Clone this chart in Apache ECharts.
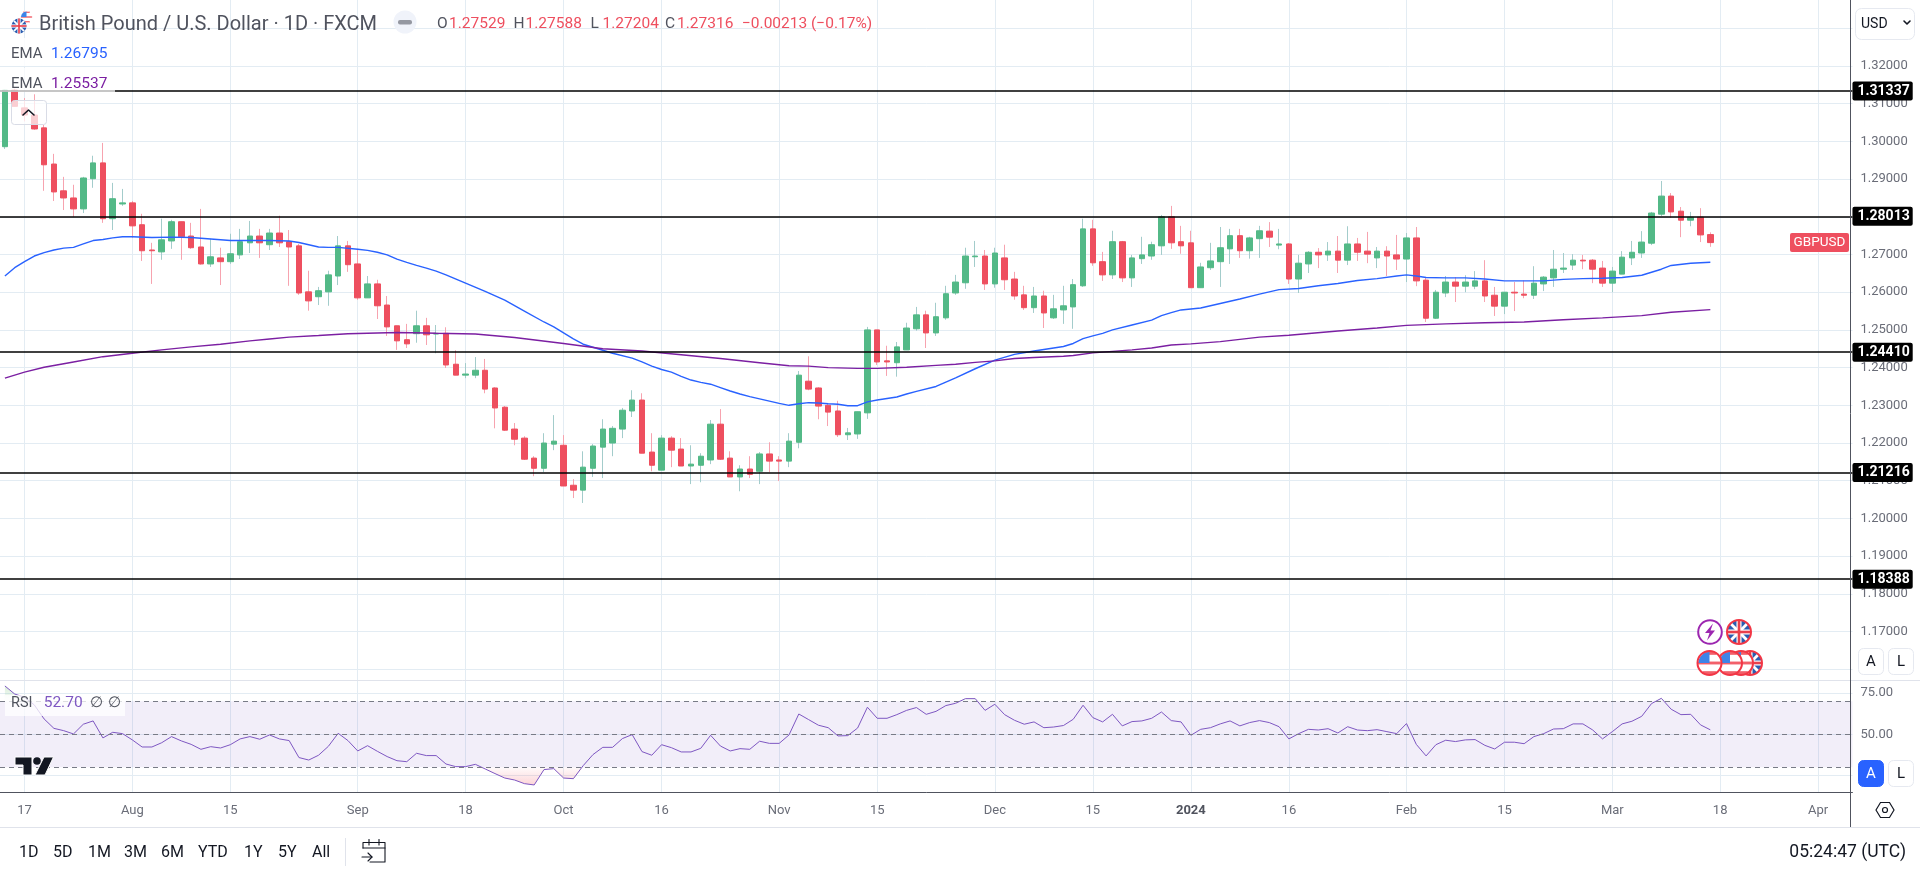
<!DOCTYPE html>
<html><head><meta charset="utf-8"><title>GBPUSD</title>
<style>html,body{margin:0;padding:0;background:#fff}#c{width:1920px;height:872px}</style>
<script src="https://cdn.jsdelivr.net/npm/echarts@6/dist/echarts.min.js"></script>
</head><body><div id="c"></div>
<script>
const tradingDays = [
 ['2023-07',[13,14,17,18,19,20,21,24,25,26,27,28,31]],
 ['2023-08',[1,2,3,4,7,8,9,10,11,14,15,16,17,18,21,22,23,24,25,28,29,30,31]],
 ['2023-09',[1,4,5,6,7,8,11,12,13,14,15,18,19,20,21,22,25,26,27,28,29]],
 ['2023-10',[2,3,4,5,6,9,10,11,12,13,16,17,18,19,20,23,24,25,26,27,30,31]],
 ['2023-11',[1,2,3,6,7,8,9,10,13,14,15,16,17,20,21,22,23,24,27,28,29,30]],
 ['2023-12',[1,4,5,6,7,8,11,12,13,14,15,18,19,20,21,22,26,27,28,29]],
 ['2024-01',[2,3,4,5,8,9,10,11,12,15,16,17,18,19,22,23,24,25,26,29,30,31]],
 ['2024-02',[1,2,5,6,7,8,9,12,13,14,15,16,19,20,21,22,23,26,27,28,29]],
 ['2024-03',[1,4,5,6,7,8,11,12,13,14,15,18,19,20,21,22,25,26,27,28,29]],
 ['2024-04',[1,2,3,4]]
];
const categories = tradingDays.flatMap(([m,ds]) => ds.map(d => m+'-'+String(d).padStart(2,'0')));
const xTickDates = ['2023-07-17','2023-08-01','2023-08-15','2023-09-01','2023-09-18','2023-10-02','2023-10-16','2023-11-01','2023-11-15','2023-12-01','2023-12-15','2024-01-02','2024-01-16','2024-02-01','2024-02-15','2024-03-01','2024-03-18','2024-04-01'];
const xTickLabels = ['17','Aug','15','Sep','18','Oct','16','Nov','15','Dec','15','2024','16','Feb','15','Mar','18','Apr'];

const opens = [
1.2986,1.3136,1.3089,1.3070,1.3036,1.2940,1.2869,1.2850,1.2821,1.2901,
1.2943,1.2795,1.2834,1.2837,1.2779,1.2712,1.2707,1.2736,1.2787,1.2749,
1.2720,1.2675,1.2691,1.2681,1.2699,1.2731,1.2749,1.2726,1.2757,1.2734,
1.2723,1.2601,1.2588,1.2601,1.2643,1.2723,1.2675,1.2585,1.2622,1.2566,
1.2511,1.2474,1.2490,1.2511,1.2489,1.2491,1.2409,1.2380,1.2380,1.2393,
1.2346,1.2295,1.2237,1.2213,1.2160,1.2133,1.2197,1.2194,1.2088,1.2075,
1.2133,1.2189,1.2200,1.2237,1.2285,1.2314,1.2176,1.2128,1.2213,1.2184,
1.2139,1.2141,1.2155,1.2250,1.2160,1.2110,1.2131,1.2125,1.2171,1.2155,
1.2152,1.2202,1.2364,1.2346,1.2300,1.2285,1.2222,1.2224,1.2280,1.2500,
1.2418,1.2413,1.2447,1.2503,1.2540,1.2492,1.2532,1.2598,1.2625,1.2694,
1.2696,1.2622,1.2691,1.2635,1.2593,1.2559,1.2590,1.2532,1.2553,1.2561,
1.2617,1.2768,1.2681,1.2646,1.2734,1.2638,1.2689,1.2696,1.2723,1.2800,
1.2734,1.2731,1.2612,1.2665,1.2681,1.2715,1.2750,1.2710,1.2742,1.2762,
1.2725,1.2728,1.2635,1.2675,1.2706,1.2699,1.2709,1.2685,1.2728,1.2709,
1.2691,1.2709,1.2699,1.2688,1.2744,1.2632,1.2531,1.2598,1.2627,1.2616,
1.2616,1.2630,1.2592,1.2563,1.2600,1.2595,1.2592,1.2622,1.2638,1.2661,
1.2672,1.2685,1.2685,1.2664,1.2624,1.2648,1.2691,1.2704,1.2730,1.2807,
1.2855,1.2815,1.2791,1.2799,1.27529];
const closes = [
1.3136,1.3093,1.3070,1.3033,1.2938,1.2866,1.2850,1.2821,1.2903,1.2943,
1.2795,1.2848,1.2837,1.2776,1.2710,1.2710,1.2739,1.2787,1.2747,1.2718,
1.2675,1.2694,1.2681,1.2702,1.2734,1.2749,1.2731,1.2757,1.2731,1.2720,
1.2598,1.2577,1.2604,1.2646,1.2723,1.2673,1.2585,1.2622,1.2564,1.2508,
1.2471,1.2463,1.2511,1.2487,1.2491,1.2407,1.2380,1.2383,1.2393,1.2343,
1.2293,1.2234,1.2210,1.2157,1.2133,1.2200,1.2205,1.2086,1.2075,1.2136,
1.2192,1.2237,1.2239,1.2287,1.2314,1.2173,1.2141,1.2213,1.2181,1.2139,
1.2144,1.2165,1.2250,1.2157,1.2110,1.2131,1.2117,1.2171,1.2152,1.2152,
1.2205,1.2380,1.2343,1.2298,1.2282,1.2222,1.2227,1.2283,1.2500,1.2415,
1.2415,1.2455,1.2505,1.2540,1.2492,1.2535,1.2596,1.2627,1.2696,1.2696,
1.2622,1.2704,1.2633,1.2590,1.2559,1.2590,1.2545,1.2556,1.2564,1.2620,
1.2768,1.2678,1.2646,1.2734,1.2638,1.2691,1.2699,1.2726,1.2800,1.2731,
1.2723,1.2612,1.2667,1.2683,1.2718,1.2750,1.2710,1.2744,1.2763,1.2746,
1.2728,1.2635,1.2677,1.2706,1.2699,1.2709,1.2685,1.2728,1.2706,1.2701,
1.2709,1.2696,1.2688,1.2744,1.2630,1.2531,1.2600,1.2627,1.2616,1.2627,
1.2630,1.2590,1.2563,1.2600,1.2598,1.2592,1.2624,1.2640,1.2661,1.2664,
1.2685,1.2683,1.2661,1.2624,1.2656,1.2693,1.2706,1.2733,1.2810,1.2855,
1.2813,1.2791,1.2799,1.2752,1.27316];
const highs = [
1.3137,1.3140,1.3115,1.3125,1.3044,1.2967,1.2906,1.2885,1.2906,1.2962,
1.2996,1.2890,1.2874,1.2842,1.2808,1.2731,1.2795,1.2792,1.2787,1.2784,
1.2821,1.2742,1.2718,1.2755,1.2768,1.2789,1.2768,1.2768,1.2803,1.2765,
1.2728,1.2657,1.2614,1.2657,1.2749,1.2736,1.2715,1.2643,1.2633,1.2590,
1.2511,1.2516,1.2551,1.2532,1.2513,1.2507,1.2446,1.2412,1.2428,1.2423,
1.2348,1.2298,1.2253,1.2218,1.2165,1.2226,1.2274,1.2221,1.2104,1.2178,
1.2197,1.2263,1.2245,1.2293,1.2340,1.2332,1.2226,1.2221,1.2218,1.2213,
1.2194,1.2173,1.2261,1.2290,1.2178,1.2141,1.2165,1.2176,1.2202,1.2165,
1.2226,1.2391,1.2430,1.2348,1.2305,1.2312,1.2240,1.2283,1.2508,1.2500,
1.2458,1.2468,1.2519,1.2561,1.2551,1.2572,1.2617,1.2646,1.2718,1.2736,
1.2712,1.2718,1.2726,1.2654,1.2617,1.2614,1.2604,1.2593,1.2617,1.2635,
1.2795,1.2792,1.2707,1.2763,1.2736,1.2699,1.2747,1.2734,1.2805,1.2829,
1.2776,1.2763,1.2678,1.2731,1.2773,1.2768,1.2768,1.2747,1.2776,1.2786,
1.2768,1.2730,1.2699,1.2709,1.2717,1.2733,1.2749,1.2775,1.2744,1.2760,
1.2720,1.2722,1.2752,1.2757,1.2773,1.2638,1.2606,1.2643,1.2640,1.2645,
1.2656,1.2685,1.2614,1.2600,1.2627,1.2631,1.2669,1.2643,1.2712,1.2704,
1.2701,1.2699,1.2688,1.2683,1.2667,1.2709,1.2736,1.2762,1.2813,1.2895,
1.2863,1.2826,1.2813,1.2823,1.27588];
const lows = [
1.2980,1.3093,1.3053,1.3031,1.2869,1.2842,1.2818,1.2800,1.2810,1.2877,
1.2784,1.2765,1.2829,1.2744,1.2683,1.2622,1.2686,1.2715,1.2686,1.2715,
1.2673,1.2667,1.2619,1.2675,1.2688,1.2704,1.2691,1.2712,1.2720,1.2617,
1.2593,1.2551,1.2566,1.2564,1.2619,1.2654,1.2580,1.2585,1.2529,1.2484,
1.2447,1.2452,1.2466,1.2460,1.2438,1.2399,1.2380,1.2372,1.2372,1.2332,
1.2239,1.2232,1.2194,1.2155,1.2112,1.2123,1.2181,1.2086,1.2054,1.2041,
1.2110,1.2107,1.2165,1.2213,1.2269,1.2173,1.2125,1.2128,1.2136,1.2139,
1.2091,1.2096,1.2144,1.2155,1.2110,1.2072,1.2107,1.2091,1.2123,1.2099,
1.2136,1.2186,1.2340,1.2263,1.2245,1.2216,1.2208,1.2211,1.2264,1.2407,
1.2378,1.2376,1.2447,1.2498,1.2452,1.2484,1.2527,1.2593,1.2609,1.2667,
1.2606,1.2612,1.2606,1.2580,1.2553,1.2545,1.2505,1.2529,1.2516,1.2503,
1.2614,1.2670,1.2630,1.2635,1.2627,1.2614,1.2675,1.2686,1.2699,1.2715,
1.2702,1.2612,1.2612,1.2659,1.2614,1.2675,1.2691,1.2689,1.2691,1.2720,
1.2714,1.2622,1.2598,1.2651,1.2664,1.2683,1.2651,1.2672,1.2683,1.2677,
1.2664,1.2643,1.2659,1.2627,1.2616,1.2521,1.2529,1.2587,1.2574,1.2600,
1.2608,1.2574,1.2537,1.2542,1.2550,1.2584,1.2582,1.2603,1.2614,1.2651,
1.2659,1.2661,1.2624,1.2614,1.2600,1.2648,1.2672,1.2691,1.2725,1.2802,
1.2797,1.2746,1.2775,1.2733,1.27204];

// EMA readings as [candle index, price]
const emaFast = [[0,1.2643],[1,1.2665],[2,1.2681],[3,1.2696],[4,1.2705],[5,1.2712],[6,1.2717],[7,1.2719],[8,1.2728],[9,1.2737],[10,1.2740],[11,1.2744],[12,1.2747],[13,1.2747],[15,1.2745],[17,1.2746],[19,1.2745],[21,1.2741],[23,1.2737],[25,1.2737],[27,1.2737],[29,1.2736],[30,1.2732],[31,1.2726],[32,1.2720],[33,1.2719],[34,1.2719],[36,1.2714],[37,1.2711],[38,1.2706],[39,1.2699],[40,1.2688],[41,1.2679],[42,1.2671],[43,1.2664],[44,1.2656],[45,1.2646],[47,1.2624],[49,1.2602],[51,1.2579],[53,1.2550],[55,1.2521],[56,1.2508],[57,1.2492],[58,1.2476],[59,1.2462],[60,1.2454],[61,1.2446],[62,1.2438],[64,1.2425],[65,1.2415],[66,1.2404],[67,1.2395],[68,1.2388],[69,1.2377],[70,1.2367],[71,1.2361],[72,1.2356],[73,1.2347],[74,1.2338],[75,1.2330],[76,1.2323],[77,1.2317],[78,1.2311],[79,1.2305],[80,1.2300],[81,1.2304],[82,1.2307],[83,1.2306],[84,1.2304],[85,1.2303],[86,1.2299],[87,1.2299],[88,1.2309],[89,1.2314],[91,1.2322],[92,1.2330],[93,1.2337],[95,1.2350],[97,1.2373],[99,1.2397],[101,1.2420],[103,1.2435],[105,1.2444],[107,1.2452],[108,1.2456],[109,1.2464],[110,1.2477],[111,1.2484],[112,1.2491],[113,1.2500],[115,1.2513],[117,1.2526],[118,1.2538],[119,1.2546],[120,1.2553],[122,1.2558],[124,1.2570],[126,1.2582],[128,1.2595],[130,1.2607],[132,1.2610],[134,1.2617],[136,1.2623],[138,1.2631],[140,1.2636],[142,1.2643],[143,1.2646],[144,1.2643],[145,1.2639],[147,1.2638],[149,1.2638],[151,1.2635],[153,1.2630],[155,1.2630],[157,1.2630],[159,1.2634],[161,1.2636],[163,1.2637],[165,1.2639],[167,1.2645],[168,1.2653],[169,1.2661],[170,1.2671],[172,1.2677],[174,1.26795]];
const emaSlow = [[0,1.2372],[2,1.2388],[4,1.2401],[7,1.2415],[10,1.2429],[13,1.2438],[16,1.2447],[19,1.2455],[22,1.2462],[25,1.2471],[27,1.2476],[29,1.2481],[32,1.2485],[35,1.2490],[38,1.2492],[40,1.2493],[43,1.2492],[44,1.2491],[48,1.2489],[52,1.2480],[57,1.2464],[61,1.2450],[65,1.2444],[69,1.2434],[73,1.2424],[77,1.2413],[80,1.2405],[82,1.2404],[84,1.2400],[87,1.2398],[89,1.2398],[92,1.2401],[95,1.2406],[97,1.2409],[99,1.2414],[101,1.2418],[103,1.2424],[105,1.2427],[108,1.2430],[109,1.2432],[111,1.2439],[113,1.2443],[115,1.2447],[117,1.2452],[119,1.2460],[121,1.2463],[124,1.2469],[128,1.2481],[131,1.2486],[136,1.2497],[140,1.2505],[143,1.2512],[147,1.2516],[151,1.2519],[155,1.2521],[159,1.2527],[163,1.2532],[167,1.2538],[170,1.2547],[174,1.25537]];

const rsiValues = [
79.3,74.4,72.4,67.8,59.3,53.6,52.2,50.2,56.1,58.1,
47.8,51.2,50.4,46.6,42.3,42.3,44.9,48.6,46.0,43.9,
40.9,42.5,41.7,43.7,47.2,48.6,47.0,49.6,47.2,46.2,
35.9,34.4,37.3,42.7,50.6,46.2,39.9,43.1,39.7,36.5,
34.0,33.4,38.5,37.1,37.1,32.0,30.4,30.4,31.8,29.0,
26.2,23.5,22.3,20.1,19.3,28.6,29.2,23.5,23.1,31.0,
37.7,42.1,42.1,47.4,49.8,39.5,37.3,43.7,41.9,39.3,
39.3,41.5,49.4,42.9,39.9,41.3,40.9,45.8,44.5,44.5,
49.6,62.3,58.9,55.5,54.0,49.0,49.2,53.8,66.4,59.7,
59.7,61.9,64.5,66.2,62.1,63.9,67.4,68.8,71.6,71.6,
64.5,68.2,61.9,58.5,56.1,57.5,54.0,54.4,55.3,59.1,
67.6,60.1,57.5,62.1,55.1,57.7,58.1,59.7,63.5,58.3,
57.5,49.4,53.0,54.0,56.3,58.1,55.1,57.1,58.3,57.1,
54.6,47.2,50.4,53.0,52.6,53.4,50.8,54.6,52.6,52.2,
52.8,51.6,50.4,56.5,43.9,36.9,43.7,46.4,45.6,46.6,
46.8,43.3,41.1,45.2,45.2,44.3,48.6,50.4,53.2,53.4,
56.3,56.3,52.6,47.2,51.6,56.3,57.9,60.9,68.6,71.8,
65.2,61.9,62.1,55.7,52.70];

const levels = [1.31337,1.28013,1.24410,1.21216,1.18388];
const priceTicks = [1.33,1.32,1.31,1.30,1.29,1.28,1.27,1.26,1.25,1.24,1.23,1.22,1.21,1.20,1.19,1.18,1.17,1.16];
const priceLabels = [1.32,1.31,1.30,1.29,1.28,1.27,1.26,1.25,1.24,1.23,1.22,1.21,1.20,1.19,1.18,1.17];
const rsiTicks = [75,50,25];
const rsiLabels = [75,50];
const rsiLevels = [70,50,30];
const rangeButtons = ['1D','5D','1M','3M','6M','YTD','1Y','5Y','All'];

const FONT = 'Roboto, "Noto Sans", sans-serif';
const GRID_C = '#e3ecf3', AXIS_T = '#6a6d78', TXT = '#131722';
const UP = '#53b987', DOWN = '#ee4f5f', UPW = '#a3cccb', DOWNW = '#f7a3af';
const tickIdx = new Set(xTickDates.map(d => categories.indexOf(d)));
const labelOf = Object.fromEntries(xTickDates.map((d,i)=>[d,xTickLabels[i]]));

const wickData = opens.map((o,i)=>[o,closes[i],lows[i],highs[i]]);
const bodyData = opens.map((o,i)=>[o,closes[i],Math.min(o,closes[i]),Math.max(o,closes[i])]);

const W = 9.815;
const gridLeft = -2.58, gridWidth = W*categories.length;

function xAxis(gi, show){ return {
  type:'category', gridIndex:gi, data:categories, boundaryGap:true,
  axisLine:{show:gi===1,lineStyle:{color:'#50535e',width:1}}, axisTick:{show:false},
  splitLine:{show:true,alignWithLabel:true,interval:(i)=>tickIdx.has(i),lineStyle:{color:GRID_C,width:1}},
  axisLabel:{show,interval:(i)=>tickIdx.has(i),margin:12,fontFamily:FONT,fontSize:13,color:AXIS_T,
    formatter:(v)=>labelOf[v]==='2024'?'{b|2024}':(labelOf[v]||''),
    rich:{b:{fontFamily:FONT,fontSize:13,fontWeight:'bold',color:'#50535e'}}}
};}
function yAxis(gi,min,max,ticks,labels,dec){ return {
  type:'value', gridIndex:gi, position:'right', min, max, scale:true,
  axisLine:{show:false}, axisTick:{show:false,customValues:ticks},
  splitLine:{show:true,lineStyle:{color:GRID_C,width:1}},
  axisLabel:{show:true,customValues:labels,margin:8,fontFamily:FONT,fontSize:13,color:AXIS_T,formatter:(v)=>(+v).toFixed(dec)}
};}

const g = [];
const text=(t,x,y,font,fill,align,z)=>g.push({type:'text',z:z||60,silent:true,style:{text:t,x,y:y+1.5,font:font+' '+FONT,fill,align:align||'left',verticalAlign:'middle'}});
const rect=(x,y,w,h,fill,stroke,r,z)=>g.push({type:'rect',z:z||55,silent:true,shape:{x,y,width:w,height:h,r:r||0},style:{fill:fill||'none',stroke:stroke||'none',lineWidth:1}});
const line=(x1,y1,x2,y2,c,lw,z)=>g.push({type:'line',z:z||55,silent:true,shape:{x1,y1,x2,y2},style:{stroke:c,lineWidth:lw||1}});
const circ=(cx,cy,r,fill,stroke,lw,z)=>g.push({type:'circle',z:z||58,silent:true,shape:{cx,cy,r},style:{fill:fill||'none',stroke:stroke||'none',lineWidth:lw||1}});
const poly=(pts,fill,stroke,lw,z)=>g.push({type:'polygon',z:z||58,silent:true,shape:{points:pts},style:{fill:fill||'none',stroke:stroke||'none',lineWidth:lw||1}});
const pline=(pts,c,lw,z)=>g.push({type:'polyline',z:z||60,silent:true,shape:{points:pts},style:{fill:'none',stroke:c,lineWidth:lw||1,lineCap:'round',lineJoin:'round'}});

let fz=70;
function flagUS(cx,cy,r,border){
  fz+=1; const z=fz;
  circ(cx,cy,r,'#fff',null,1,z);
  const n=5; for(let i=0;i<n;i++){ const yy=-r+ (2*r)*(i+0.5)/n*1; if(i%2===0){ const half=Math.sqrt(Math.max(0,r*r-yy*yy))*0.95; rect(cx-half,cy+yy-r*0.12,2*half,r*0.24,'#f2606a',null,0,z); } }
  g.push({type:'sector',z,silent:true,shape:{cx,cy,r:r*0.92,startAngle:Math.PI,endAngle:Math.PI*1.5},style:{fill:'#3d84e8'}});
  if(border) circ(cx,cy,r,null,border,2,z);
  else circ(cx,cy,r,null,'#fff',0.5,z);
}
function flagUK(cx,cy,r,border){
  fz+=1; const z=fz; const k=r*0.68;
  circ(cx,cy,r,'#2a5db0',null,1,z);
  line(cx-k,cy-k,cx+k,cy+k,'#fff',r*0.24,z); line(cx-k,cy+k,cx+k,cy-k,'#fff',r*0.24,z);
  line(cx-r,cy,cx+r,cy,'#fff',r*0.42,z); line(cx,cy-r,cx,cy+r,'#fff',r*0.42,z);
  line(cx-r,cy,cx+r,cy,'#e8404c',r*0.22,z); line(cx,cy-r,cx,cy+r,'#e8404c',r*0.22,z);
  if(border) circ(cx,cy,r,null,border,2,z);
}

// top-left legend
rect(0,38,115,28,'rgba(255,255,255,0.85)');
rect(0,68,115,24,'rgba(255,255,255,0.7)');
flagUS(26.5,17,6); flagUK(19,26,7.5);
text('British Pound / U.S. Dollar · 1D · FXCM',39,23,'20px','#50535e');
circ(405,22,11.5,'#f0f3fa');
rect(398,20,14,4.5,'#9598a1',null,2,60);
const oc='#ee4f5f';
[['O','1.27529',437],['H','1.27588',513.5],['L','1.27204',590.5],['C','1.27316',665]].forEach(([a,b,x])=>{
  text(a,x,23,'15.5px','#50535e'); text(b,x+12,23,'15.5px',oc);
});
text('−0.00213 (−0.17%)',742,23,'15.5px',oc);
text('EMA',11,52.7,'15px','#50535e'); text('1.26795',51,52.7,'15.5px','#2962ff');
text('EMA',11,82.7,'15px','#50535e'); text('1.25537',51,82.7,'15.5px','#7b1fa2');
// collapse button
rect(11.5,100.5,35,24,'rgba(255,255,255,0.72)','#d9dce6',3);
pline([[23,115],[28.5,110],[34,115]],'#131722',1.6);
// RSI legend
rect(5,695,120,21,'rgba(255,255,255,0.75)');
text('RSI',11,701.7,'14.5px','#50535e'); text('52.70',43.7,701.7,'15.5px','#7e57c2');
text('∅',90,701.7,'15px','#50535e'); text('∅',108,701.7,'15px','#50535e');
// logo
poly([[15,757],[32,757],[32,775],[23,775],[23,765],[15,765]],'#131722','#fff',1,60);
circ(37,761,3.8,'#131722',null,1,60);
poly([[44,757],[53.5,757],[45,775],[35,775]],'#131722','#fff',1,60);
// price tag
rect(1790,233,59,19,DOWN,null,2,60);
text('GBPUSD',1819.5,241.5,'13.5px','#fff','center',61);
// panes separators
line(0,680.5,1851,680.5,'#e0e3eb',1,5);
line(0,827.5,1920,827.5,'#e0e3eb',1,5);
line(1850.5,0,1850.5,827,'#50535e',1,50);
line(1851,680.5,1920,680.5,'#e0e3eb',1,5);
// USD
rect(1855.5,8.5,59,31,'#fff','#e6e9f0',6);
text('USD',1861,22.5,'14px',TXT);
pline([[1904,21],[1907,24],[1910,21]],TXT,1.6);
// A / L
const btn=(x,y,h,t,act)=>{rect(x+.5,y+.5,25,h,act?'#2962ff':'#fff',act?'#2962ff':'#e6e9f0',5);text(t,x+13,y+h/2,'15px',act?'#fff':TXT,'center',60);};
btn(1858,648,26,'A'); btn(1888,648,26,'L');
btn(1858,760,26,'A',true); btn(1888,760,26,'L');
// settings hexagon
poly([[1876,810],[1880.5,802.5],[1889.5,802.5],[1894,810],[1889.5,817.5],[1880.5,817.5]],'#fff','#131722',1.2,60);
circ(1885,810,2.5,null,'#131722',1.2,61);
// range bar
[19,53,88,124,161,198,244,278,312].forEach((x,i)=>text(rangeButtons[i],x,851,'16px',TXT));
line(345.5,838,345.5,866,'#e0e3eb',1);
pline([[363,848],[363,842.5],[385,842.5],[385,862],[370,862]],TXT,1.1);
pline([[363,848],[385,848]],TXT,1.1);
pline([[369,839.5],[369,845]],TXT,1.1); pline([[379,839.5],[379,845]],TXT,1.1);
pline([[362,857],[372,857]],TXT,1.1); pline([[368,853],[372,857],[368,861]],TXT,1.1);
text('05:24:47 (UTC)',1906,851,'17.5px',TXT,'right');
// event badges
const RB='#f23645';
flagUK(1750,663,12,RB); flagUS(1741,663,12,RB); flagUS(1730,663,12,RB); flagUS(1709.5,663,12,RB);
flagUK(1739,632,12,RB);
circ(1710,632,11.8,'#fff','#9c27b0',2,92);
poly([[1713,623.5],[1705,633],[1709.5,633],[1707,640.5],[1715,630.5],[1710.5,630.5]],'#9c27b0',null,1,93);

const option = {
  animation:false, backgroundColor:'#fff', textStyle:{fontFamily:FONT},
  grid:[
    {left:gridLeft,top:0,width:gridWidth,height:680,containLabel:false},
    {left:gridLeft,top:680,width:gridWidth,height:112,containLabel:false}
  ],
  xAxis:[xAxis(0,false),xAxis(1,true)],
  yAxis:[yAxis(0,1.15714,1.33751,priceTicks,priceLabels,5),yAxis(1,15.03,82.9,rsiTicks,rsiLabels,2)],
  series:[
    {name:'wick',type:'candlestick',xAxisIndex:0,yAxisIndex:0,barWidth:1,z:2,data:wickData,
     itemStyle:{color:UPW,color0:DOWNW,borderColor:UPW,borderColor0:DOWNW,borderWidth:1}},
    {name:'GBPUSD',type:'candlestick',xAxisIndex:0,yAxisIndex:0,barWidth:6,z:3,data:bodyData,
     itemStyle:{color:UP,color0:DOWN,borderColor:UP,borderColor0:DOWN,borderWidth:1}},
    {name:'EMA fast',type:'line',xAxisIndex:0,yAxisIndex:0,data:emaFast,showSymbol:false,symbol:'none',z:4,
     lineStyle:{color:'#2962ff',width:1.4}},
    {name:'EMA slow',type:'line',xAxisIndex:0,yAxisIndex:0,data:emaSlow,showSymbol:false,symbol:'none',z:4,
     lineStyle:{color:'#7b1fa2',width:1.4},
     markLine:{silent:true,symbol:'none',animation:false,z:6,precision:5,
       lineStyle:{color:'#000',width:1.5,type:'solid'},
       label:{show:true,position:'end',distance:0,formatter:(p)=>(+p.value).toFixed(5),color:'#fff',backgroundColor:'#000',
         fontFamily:FONT,fontSize:14,fontWeight:'bold',padding:[3,3,2,5],borderRadius:2},
       data:levels.map(v=>({yAxis:v}))}},
    {name:'RSI',type:'line',xAxisIndex:1,yAxisIndex:1,data:rsiValues,showSymbol:false,symbol:'none',z:4,
     lineStyle:{color:'#7e57c2',width:1},
     markArea:{silent:true,animation:false,itemStyle:{color:'rgba(126,87,194,0.1)'},data:[[{yAxis:70},{yAxis:30}]]},
     markLine:{silent:true,symbol:'none',animation:false,label:{show:false},
       lineStyle:{color:'#787b86',width:1,type:[5,4]},data:rsiLevels.map(v=>({yAxis:v}))}},
    {name:'oversold',type:'line',xAxisIndex:1,yAxisIndex:1,data:rsiValues.map(v=>Math.min(v,30)),showSymbol:false,symbol:'none',z:3,
     lineStyle:{width:0},
     areaStyle:{origin:30,color:{type:'linear',x:0,y:0,x2:0,y2:1,colorStops:[{offset:0,color:'rgba(242,54,69,0.03)'},{offset:1,color:'rgba(242,54,69,0.3)'}]}}},
    {name:'overbought',type:'line',xAxisIndex:1,yAxisIndex:1,data:rsiValues.map(v=>Math.max(v,70)),showSymbol:false,symbol:'none',z:3,
     lineStyle:{width:0},
     areaStyle:{origin:70,color:{type:'linear',x:0,y:0,x2:0,y2:1,colorStops:[{offset:0,color:'rgba(76,175,80,0.3)'},{offset:1,color:'rgba(76,175,80,0.03)'}]}}}
  ],
  graphic:{elements:g}
};
const chart = echarts.init(document.getElementById('c'),null,{renderer:'canvas',width:1920,height:872});
chart.setOption(option);
</script></body></html>
